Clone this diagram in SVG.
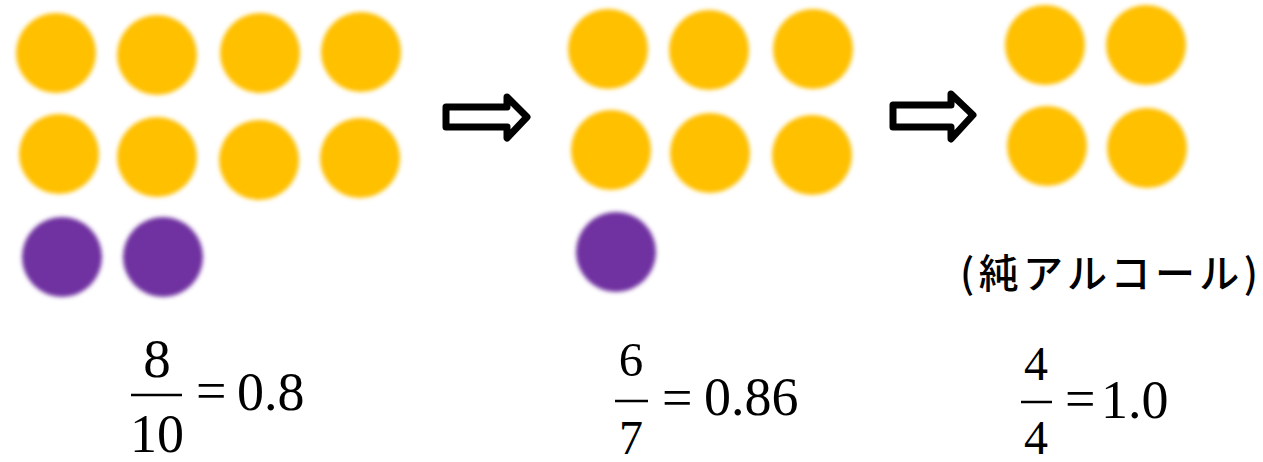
<svg xmlns="http://www.w3.org/2000/svg" width="1263" height="462" viewBox="0 0 1263 462">
<style>
.y{fill:#FFC000;filter:url(#bl)}
.p{fill:#7030A0;filter:url(#bl)}
.arrow{fill:#fff;stroke:#000;stroke-width:7;stroke-linejoin:round}
.m{font-family:'Liberation Serif','Times New Roman',serif;fill:#000}
.bar{stroke:#000;stroke-width:2.5}
.jp{font-family:'Noto Sans CJK JP','Noto Sans',sans-serif;font-size:40px;font-weight:500;fill:#000}
</style>
<defs>
<filter id="bl" x="-20%" y="-20%" width="140%" height="140%"><feGaussianBlur stdDeviation="2"/></filter>
</defs>
<rect width="1263" height="462" fill="#fff"/>
<g id="group1">
<circle class="y" cx="56" cy="53" r="40"/>
<circle class="y" cx="157" cy="55" r="40"/>
<circle class="y" cx="260" cy="53" r="40"/>
<circle class="y" cx="361" cy="52" r="40"/>
<circle class="y" cx="59" cy="154" r="40"/>
<circle class="y" cx="157" cy="157" r="40"/>
<circle class="y" cx="259" cy="160" r="40"/>
<circle class="y" cx="360" cy="158" r="40"/>
<circle class="p" cx="62" cy="257" r="40"/>
<circle class="p" cx="163" cy="257" r="40"/>
</g>
<g id="group2">
<circle class="y" cx="608" cy="49" r="40"/>
<circle class="y" cx="709" cy="50" r="40"/>
<circle class="y" cx="813" cy="49" r="40"/>
<circle class="y" cx="611" cy="150" r="40"/>
<circle class="y" cx="710" cy="153" r="40"/>
<circle class="y" cx="812" cy="155" r="40"/>
<circle class="p" cx="616" cy="252" r="40"/>
</g>
<g id="group3">
<circle class="y" cx="1045" cy="45" r="40"/>
<circle class="y" cx="1146" cy="45" r="40"/>
<circle class="y" cx="1047" cy="146" r="40"/>
<circle class="y" cx="1147" cy="148" r="40"/>
</g>
<g id="connectors">
<polygon class="arrow" points="446,107 507,107 507,97 527,117 507,138 507,127 446,127"/>
<polygon class="arrow" points="893,105 951,105 951,94 973,115 951,139 951,127 893,127"/>
</g>
<g id="label3">
<text class="jp" x="960" y="288" textLength="298" lengthAdjust="spacing">(純アルコール)</text>
</g>
<g id="eq1">
<text class="m" x="157" y="377" font-size="55" text-anchor="middle">8</text>
<line class="bar" x1="131" y1="395" x2="182" y2="395"/>
<text class="m" x="157" y="452" font-size="54" text-anchor="middle">10</text>
<text class="m" x="196" y="409" font-size="54">=</text>
<text class="m" x="237" y="410" font-size="54">0.8</text>
</g>
<g id="eq2">
<text class="m" x="631" y="376" font-size="49" text-anchor="middle">6</text>
<line class="bar" x1="615" y1="401" x2="648" y2="401"/>
<text class="m" x="631" y="454" font-size="48" text-anchor="middle">7</text>
<text class="m" x="662" y="416" font-size="54">=</text>
<text class="m" x="704" y="415" font-size="54">0.86</text>
</g>
<g id="eq3">
<text class="m" x="1036" y="380" font-size="48" text-anchor="middle">4</text>
<line class="bar" x1="1021" y1="402" x2="1052" y2="402"/>
<text class="m" x="1036" y="454" font-size="48" text-anchor="middle">4</text>
<text class="m" x="1065" y="417" font-size="54">=</text>
<text class="m" x="1101" y="418" font-size="54">1.0</text>
</g>
</svg>
